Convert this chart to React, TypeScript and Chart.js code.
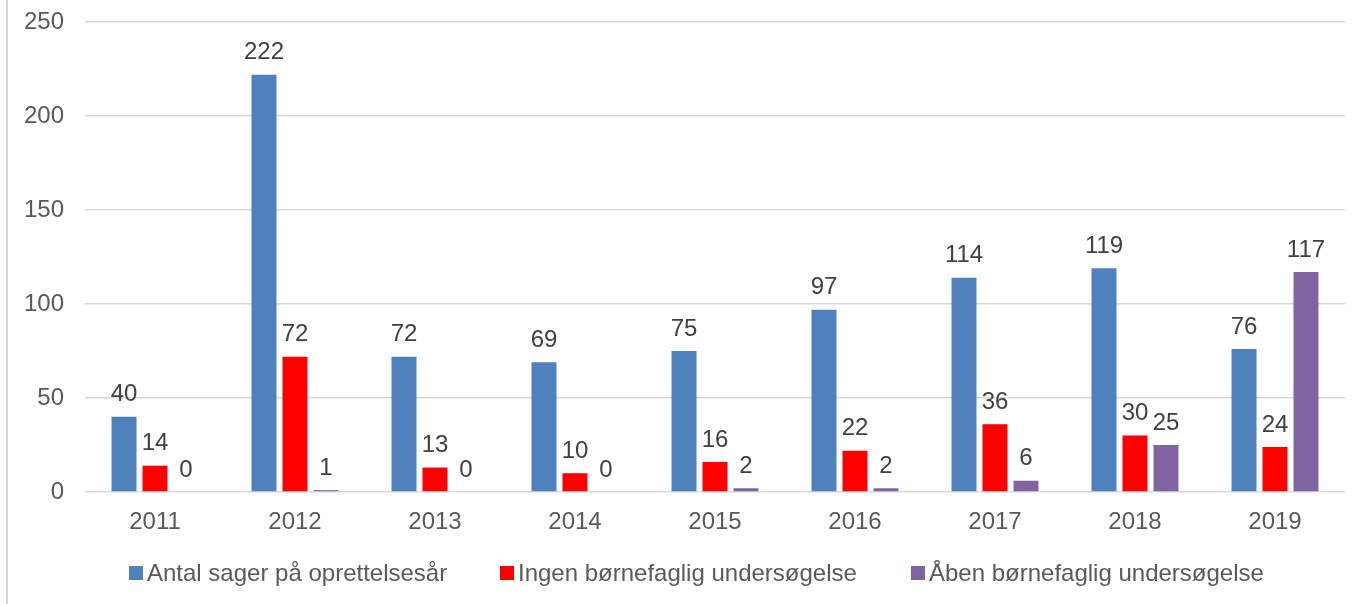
import React, { useEffect, useRef } from "react";
import { Chart, registerables } from "chart.js";

Chart.register(...registerables);

const years = ["2011", "2012", "2013", "2014", "2015", "2016", "2017", "2018", "2019"];
const antalSager = [40, 222, 72, 69, 75, 97, 114, 119, 76];
const ingenUndersoegelse = [14, 72, 13, 10, 16, 22, 36, 30, 24];
const aabenUndersoegelse = [0, 1, 0, 0, 2, 2, 6, 25, 117];
const seriesNames = [
  "Antal sager på oprettelsesår",
  "Ingen børnefaglig undersøgelse",
  "Åben børnefaglig undersøgelse",
];
const seriesColors = ["#4f81bd", "#ff0000", "#8064a2"];
const yTicks = [0, 50, 100, 150, 200, 250];

const FONT = "'Liberation Sans', Arial, sans-serif";

const valueLabels = {
  id: "valueLabels",
  afterDatasetsDraw(chart: any) {
    const ctx = chart.ctx;
    ctx.save();
    ctx.font = `24px ${FONT}`;
    ctx.fillStyle = "#404040";
    ctx.textAlign = "center";
    ctx.textBaseline = "middle";
    chart.data.datasets.forEach((ds: any, i: number) => {
      const meta = chart.getDatasetMeta(i);
      meta.data.forEach((bar: any, j: number) => {
        ctx.fillText(String(ds.data[j]), bar.x, bar.y - 22);
      });
    });
    ctx.restore();
  },
};

export default function App() {
  const ref = useRef<HTMLCanvasElement | null>(null);

  useEffect(() => {
    if (!ref.current) return;
    const chart = new Chart(ref.current, {
      type: "bar",
      data: {
        labels: years,
        datasets: [antalSager, ingenUndersoegelse, aabenUndersoegelse].map((d, i) => ({
          label: seriesNames[i],
          data: d,
          backgroundColor: seriesColors[i],
          borderWidth: 0,
          categoryPercentage: 0.664,
          barPercentage: 0.806,
        })),
      },
      options: {
        responsive: false,
        animation: false,
        layout: { padding: { top: 22, right: 18, left: 0, bottom: 0 } },
        plugins: {
          legend: { display: false },
          tooltip: { enabled: false },
        },
        scales: {
          x: {
            grid: { display: false },
            border: { display: false },
            ticks: {
              color: "#595959",
              font: { family: FONT, size: 24 },
              padding: 8,
            },
            afterFit(scale: any) {
              scale.height = 112;
            },
          },
          y: {
            min: 0,
            max: 250,
            afterBuildTicks(scale: any) {
              scale.ticks = yTicks.map((v) => ({ value: v }));
            },
            grid: { color: "#d9d9d9", lineWidth: 1.5, drawTicks: false },
            border: { display: false },
            ticks: {
              color: "#595959",
              font: { family: FONT, size: 24 },
              padding: 21,
            },
            afterFit(scale: any) {
              scale.width = 85;
              scale.paddingTop = 0;
              scale.paddingBottom = 0;
            },
          },
        },
      },
      plugins: [valueLabels],
    });
    return () => chart.destroy();
  }, []);

  const legendLefts = [129, 500, 911];

  return (
    <div
      style={{
        position: "fixed",
        left: 0,
        top: 0,
        width: 1363,
        height: 604,
        background: "#ffffff",
        fontFamily: FONT,
      }}
    >
      <canvas ref={ref} width={1363} height={604} style={{ display: "block" }} />
      <div
        style={{
          position: "absolute",
          left: 6,
          top: 0,
          width: 2,
          height: 604,
          background: "#d9d9d9",
        }}
      />
      {seriesNames.map((name, i) => (
        <div
          key={name}
          style={{
            position: "absolute",
            left: legendLefts[i],
            top: 573 - 14,
            height: 28,
            display: "flex",
            alignItems: "center",
            fontSize: 24,
            color: "#595959",
            whiteSpace: "nowrap",
          }}
        >
          <span
            style={{
              display: "inline-block",
              width: 14,
              height: 14,
              background: seriesColors[i],
              marginRight: 4,
            }}
          />
          <span>{name}</span>
        </div>
      ))}
    </div>
  );
}
